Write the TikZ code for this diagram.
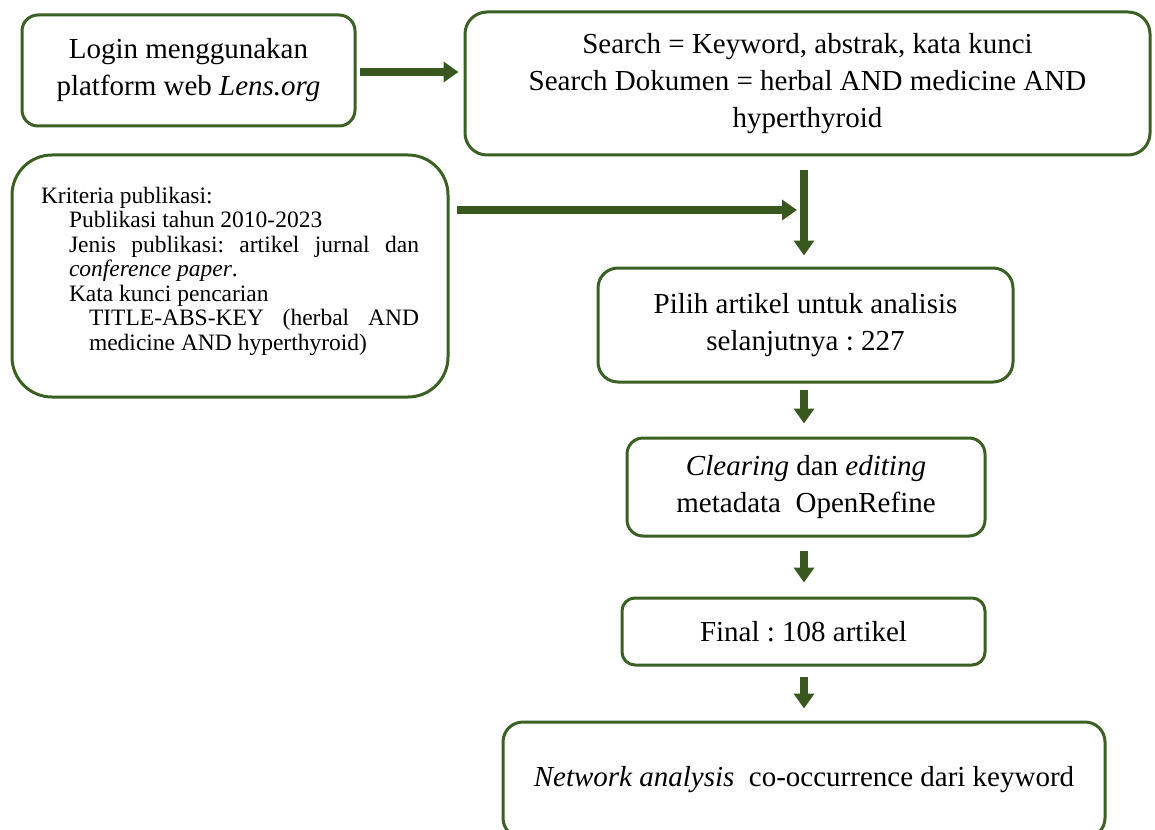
\documentclass[tikz,border=0pt]{standalone}
\usepackage{fontspec}
\setmainfont{Liberation Serif}
\usetikzlibrary{arrows.meta}
\definecolor{boxgreen}{RGB}{58,96,36}
\definecolor{arrgreen}{RGB}{56,88,32}
\frenchspacing
\begin{document}
\begin{tikzpicture}[x=1pt,y=-1pt,
  box/.style={draw=boxgreen,line width=3pt,rounded corners=#1,fill=white,
    inner sep=0pt,align=center,font=\fontsize{29}{37}\selectfont},
  arr/.style={draw=arrgreen,line width=8.5pt,
    -{Triangle[width=20pt,length=15pt]}}]
\useasboundingbox (0,0) rectangle (1155,829);
\clip (0,0) rectangle (1155,829);

\node[box=16pt,minimum width=333pt,minimum height=111pt] (login) at (188.5,70.5)
  {Login menggunakan\\platform web \textit{Lens.org}};
\node[box=22pt,minimum width=685pt,minimum height=143pt] (search) at (807.5,83.5)
  {Search = Keyword, abstrak, kata kunci\\Search Dokumen = herbal AND medicine AND\\hyperthyroid};
\node[box=40pt,minimum width=436pt,minimum height=242pt] (krit) at (230,276) {};
\node[anchor=center,inner sep=0pt] (kritText) at ([yshift=5pt]krit.center)
  {\parbox{378pt}{\fontsize{23.5}{24.5}\selectfont
  Kriteria publikasi:\\
  \hspace*{28pt}Publikasi tahun 2010-2023\\
  \hspace*{28pt}\makebox[350pt][s]{Jenis publikasi: artikel jurnal dan}\\
  \hspace*{28pt}\textit{conference paper}.\\
  \hspace*{28pt}Kata kunci pencarian\\
  \hspace*{48pt}\makebox[330pt][s]{TITLE-ABS-KEY \ (herbal \ AND}\\
  \hspace*{48pt}medicine AND hyperthyroid)}};
\node[box=20pt,minimum width=415pt,minimum height=114pt] (pilih) at (805.5,325)
  {Pilih artikel untuk analisis\\selanjutnya : 227};
\node[box=16pt,minimum width=358pt,minimum height=98pt] (clear) at (806,487)
  {\textit{Clearing} dan \textit{editing}\\metadata \ OpenRefine};
\node[box=13pt,minimum width=363pt,minimum height=67pt] (final) at (803.5,631.5)
  {Final : 108 artikel};
\node[box=20pt,minimum width=602pt,minimum height=116pt] (net) at (804,780)
  {\textit{Network analysis} \ co-occurrence dari keyword};

\coordinate (j) at (804,210);
\coordinate (vtop) at (804,170);

\draw[arr] ([xshift=3pt,yshift=-1.5pt]login.east) -- ([xshift=-5pt,yshift=-1.5pt]search.west |- login.east);
\draw[arr] ([xshift=7pt]krit.east |- j) -- ([xshift=-7pt]j);
\draw[arr] (vtop) -- ([yshift=11pt]vtop |- pilih.north);
\draw[arr] ([yshift=-6pt]vtop |- pilih.south) -- ([yshift=13pt]vtop |- clear.north);
\draw[arr] ([yshift=-13pt]vtop |- clear.south) -- ([yshift=14pt]vtop |- final.north);
\draw[arr] ([yshift=-10pt]vtop |- final.south) -- ([yshift=12pt]vtop |- net.north);
\end{tikzpicture}
\end{document}
